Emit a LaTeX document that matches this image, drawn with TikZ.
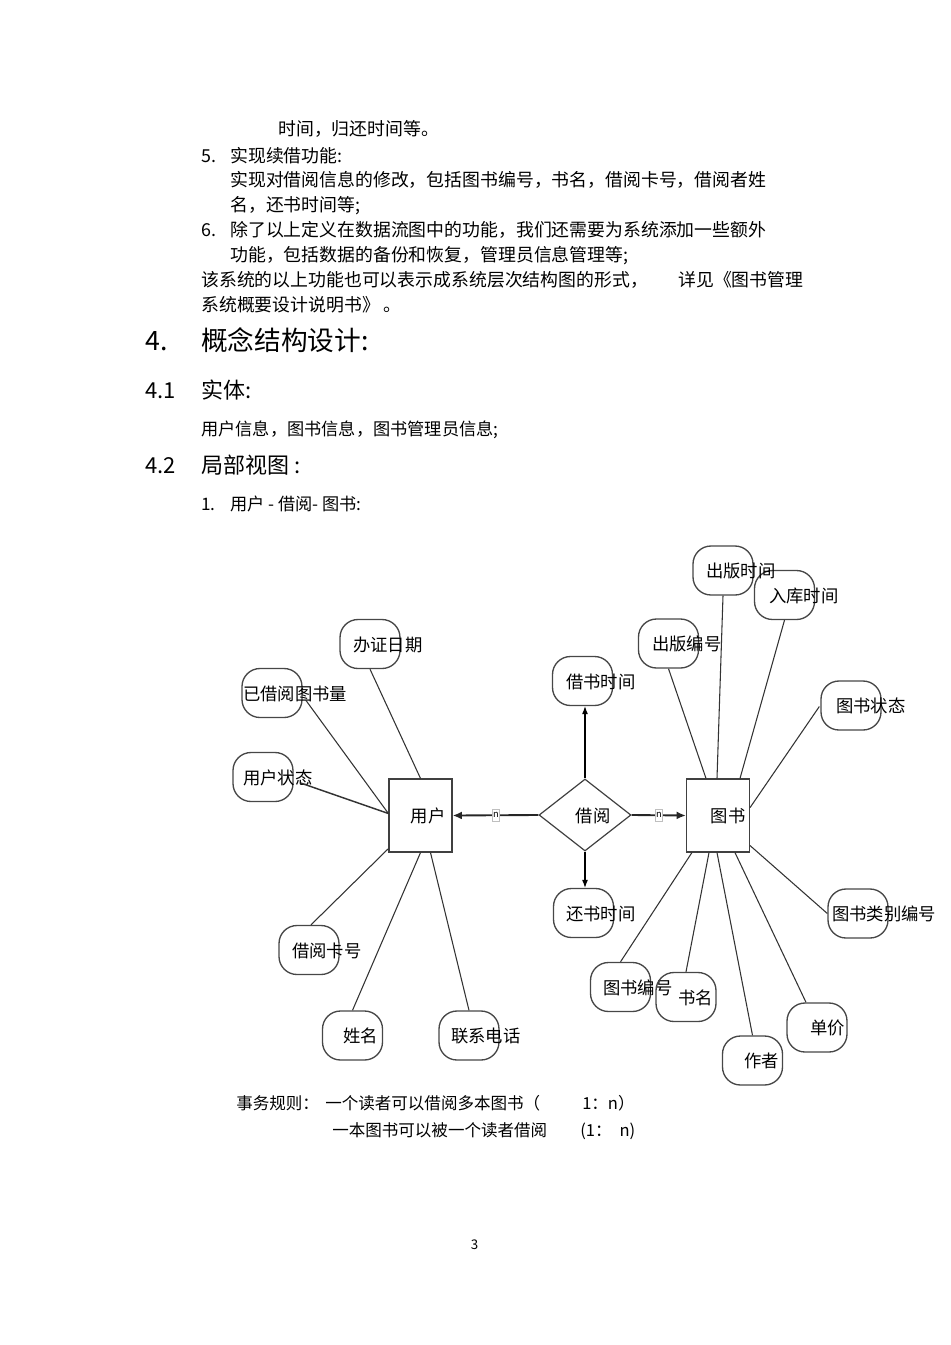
\documentclass[tikz,border=0pt]{standalone}
\usepackage{fontspec}
\setmainfont{Noto Sans CJK SC}
\usetikzlibrary{shapes.geometric,arrows.meta,calc}
\newcommand\erattr[5]{%
  \node[attrbox] (#1) at (#2,#3) {};
  \node[attrtext] (#1t) at (#4,#3) {#5};}
\begin{document}
\begin{tikzpicture}[x=0.75pt,y=-0.75pt,
  txt/.style={anchor=west, inner sep=0, text height=0.88em, text depth=0.12em, yshift=-1.5pt},
  body/.style={txt, font=\fontsize{13.4}{16}\selectfont},
  head/.style={txt, font=\fontsize{20}{24}\selectfont},
  subh/.style={txt, font=\fontsize{16.5}{20}\selectfont},
  small/.style={txt, font=\fontsize{12.9}{15}\selectfont},
  rulet/.style={txt, font=\fontsize{12.4}{15}\selectfont},
  attrbox/.style={draw=black!72, line width=1pt, rounded corners=13.5pt, minimum width=45pt, minimum height=36.75pt, inner sep=0},
  attrtext/.style={txt, font=\fontsize{13}{15}\selectfont},
  entity/.style={draw=black!75, line width=0.9pt, minimum width=47.25pt, minimum height=54.75pt, inner sep=0},
  rel/.style={diamond, draw=black!75, line width=0.9pt, minimum width=69pt, minimum height=54pt, inner sep=0},
  link/.style={draw=black!80, line width=0.8pt},
  arr/.style={draw=black!85, line width=1.4pt, -{Latex[length=7pt,width=6pt]}},
  varr/.style={draw=black, line width=0.8pt, -{Latex[length=6pt,width=4.5pt]}},
  card/.style={draw=black!25, line width=0.3pt, fill=white, inner xsep=0.6pt, inner ysep=0pt, minimum height=9pt, font=\fontsize{7}{7}\selectfont}
]
\useasboundingbox (0,0) rectangle (950,1345);

% ---- body text ----
\node[body] (l1) at (278,128) {时间，归还时间等。};
\node[body] (n5) at (201,155) {5.};
\node[body] (l2) at (230,155) {实现续借功能:};
\node[body] (l3) at (230,179) {实现对借阅信息的修改，包括图书编号，书名，借阅卡号，借阅者姓};
\node[body] (l4) at (230,204) {名，还书时间等;};
\node[body] (n6) at (201,229) {6.};
\node[body] (l5) at (230,229) {除了以上定义在数据流图中的功能，我们还需要为系统添加一些额外};
\node[body] (l6) at (230,254) {功能，包括数据的备份和恢复，管理员信息管理等;};
\node[body] (l7) at (201,279) {该系统的以上功能也可以表示成系统层次结构图的形式，};
\node[body] (l7b) at (678,279) {详见《图书管理};
\node[body] (l8) at (201,304) {系统概要设计说明书》 。};

\node[head] (h4n) at (145,343) {4.};
\node[head] (h4) at (201,343) {概念结构设计:};
\node[subh] (h41n) at (145,391) {4.1};
\node[subh] (h41) at (201,391) {实体:};
\node[small] (ent) at (201,428) {用户信息，图书信息，图书管理员信息;};
\node[subh] (h42n) at (145,466) {4.2};
\node[subh] (h42) at (201,466) {局部视图 :};
\node[small] (i1n) at (201,503) {1.};
\node[small] (i1) at (230,503) {用户 - 借阅- 图书:};

% ---- ER diagram ----
\node[entity] (user) at (420.5,815.5) {};
\node[attrtext, anchor=center] (usert) at (428,815.5) {用户};
\node[entity] (book) at (718,815.5) {};
\node[attrtext, anchor=center] (bookt) at (728,815.5) {图书};
\node[rel] (jy) at (585,815) {};
\node[attrtext, anchor=center] (jyt) at (593,815) {借阅};

\erattr{jss}{582.5}{681}{566}{借书时间}
\erattr{hs}{583.5}{913}{566}{还书时间}
\erattr{bz}{370}{644}{353}{办证日期}
\erattr{yj}{272}{693}{243}{已借阅图书量}
\erattr{zt}{263}{777}{243}{用户状态}
\erattr{jk}{309}{950}{292}{借阅卡号}
\erattr{xm}{352.5}{1035.5}{343}{姓名}
\erattr{lx}{469}{1035.5}{451}{联系电话}
\erattr{cb}{668.5}{643.5}{652}{出版编号}
\erattr{rk}{784.5}{595}{769}{入库时间}
\erattr{cs}{723}{570.5}{706}{出版时间}
\erattr{ts}{851}{705.5}{836}{图书状态}
\erattr{lb}{858}{913.5}{832}{图书类别编号}
\erattr{bh}{620.5}{987}{603}{图书编号}
\erattr{sm}{686}{997}{678}{书名}
\erattr{zz}{752.5}{1060.5}{744}{作者}
\erattr{dj}{817}{1027.5}{810}{单价}

% user attributes
\draw[link] (bz.south) -- (user.north);
\draw[link] ($(yj.east)+(3,7)$) -- ($(user.west)+(0,-2)$);
\draw[link, line width=1.1pt] ($(zt.east)+(7,6)$) -- ($(user.west)+(0,-2)$);
\draw[link] ($(jk.north)+(2,0)$) -- ($(user.south west)+(0,-4)$);
\draw[link] (xm.north) -- (user.south);
\draw[link] (lx.north) -- ($(user.south)+(10,0)$);

% book attributes
\draw[link] (cb.south) -- ($(book.north)+(-12,0)$);
\draw[link] (cs.south) -- ($(book.north)+(-1,0)$);
\draw[link] (rk.south) -- ($(book.north)+(22,0)$);
\draw[link] ($(ts.west)+(-1,1)$) -- ($(book.east)+(0,-8)$);
\draw[link] (lb.west) -- ($(book.south east)+(0,-7)$);
\draw[link] (bh.north) -- ($(book.south west)+(6,0)$);
\draw[link] (sm.north) -- ($(book.south)+(-9,0)$);
\draw[link] (zz.north) -- ($(book.south)+(-1,0)$);
\draw[link] ($(dj.north)+(-11,0)$) -- ($(book.south)+(17,0)$);

% relationship
\draw[arr] (jy.west) -- (user.east);
\draw[arr] (jy.east) -- (book.west);
\draw[varr] (jy.north) -- (jy.north |- jss.south);
\draw[varr] (jy.south) -- (jy.south |- hs.north);
\node[card] (c1) at (496,815) {n};
\node[card] (c2) at (659,815) {n};

% ---- rules ----
\node[rulet] (r1) at (236,1102) {事务规则：};
\node[rulet] (r1b) at (325,1102) {一个读者可以借阅多本图书（};
\node[rulet] (r1c) at (582,1102) {1：n）};
\node[rulet] (r2) at (332,1129) {一本图书可以被一个读者借阅};
\node[rulet] (r2c) at (580,1129) {(1：\hspace{6pt}n)};

\node[txt, anchor=center, font=\fontsize{10}{12}\selectfont] (pg) at (474.5,1242) {3};
\end{tikzpicture}
\end{document}
